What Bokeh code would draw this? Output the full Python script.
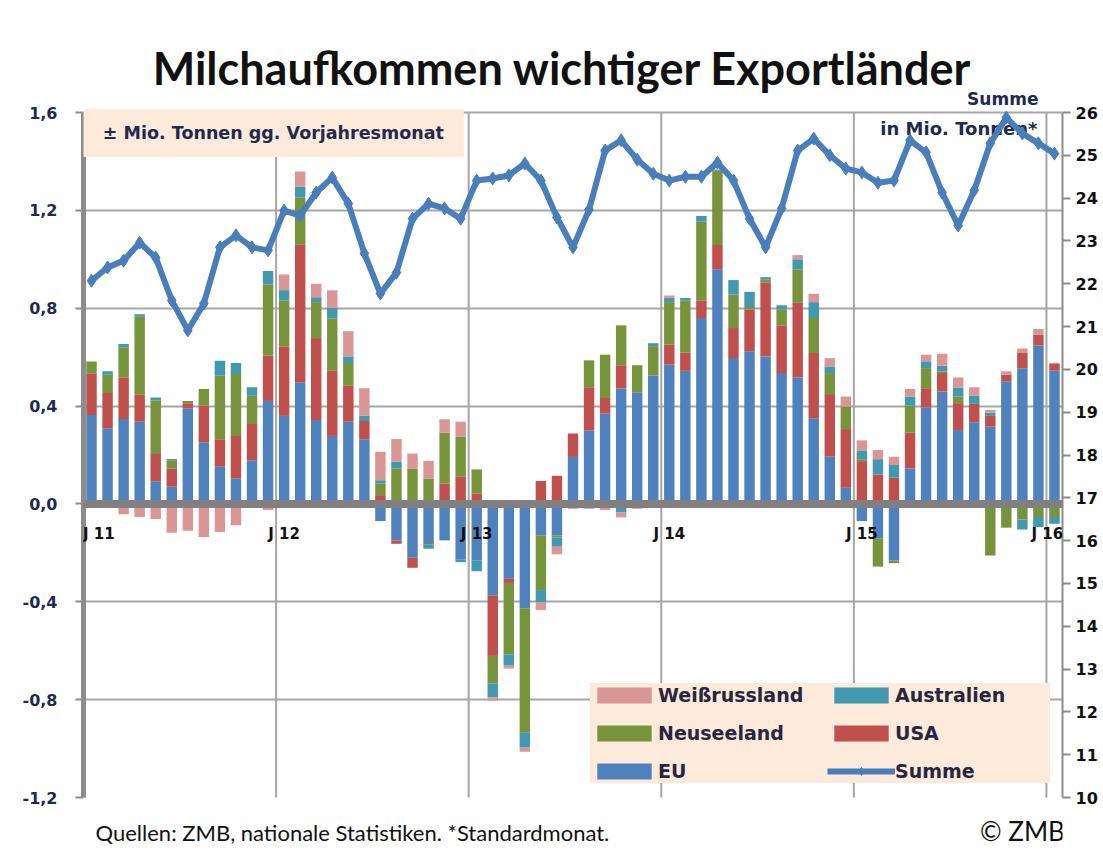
import numpy as np
from bokeh.plotting import figure
from bokeh.models import (Range1d, LinearAxis, FixedTicker, CustomJSTickFormatter,
                          ColumnDataSource, Span, Label, LabelSet, Legend, LegendItem)
from bokeh.core.properties import value
from bokeh.embed import file_html
from bokeh.resources import INLINE

# ---------------- data ----------------
month_names = ["Jan", "Feb", "Mär", "Apr", "Mai", "Jun", "Jul", "Aug", "Sep", "Okt", "Nov", "Dez"]
months = [f"{m} {y}" for y in range(2011, 2017) for m in month_names][:61]

eu = [0.364, 0.309, 0.347, 0.336, 0.093, 0.070, 0.391, 0.252, 0.152, 0.104, 0.179, 0.421,
      0.360, 0.496, 0.343, 0.278, 0.336, 0.264, -0.070, -0.149, -0.220, -0.160, -0.149, -0.228,
      -0.232, -0.374, -0.306, -0.426, -0.129, -0.129, 0.192, 0.300, 0.369, 0.472, 0.455, 0.525,
      0.569, 0.544, 0.760, 0.959, 0.596, 0.624, 0.603, 0.535, 0.517, 0.350, 0.193, 0.066,
      -0.070, -0.142, -0.231, 0.145, 0.394, 0.459, 0.302, 0.334, 0.316, 0.501, 0.555, 0.648,
      0.544]
usa = [0.170, 0.144, 0.170, 0.110, 0.111, 0.075, 0.021, 0.150, 0.112, 0.174, 0.148, 0.185,
       0.284, 0.565, 0.335, 0.266, 0.147, 0.075, 0.036, -0.014, -0.041, -0.005, 0.083, 0.111,
       0.043, -0.247, -0.017, 0.0, 0.094, 0.115, 0.096, 0.177, 0.064, 0.095, 0.0, 0.0,
       0.082, 0.075, 0.072, 0.099, 0.123, 0.171, 0.301, 0.195, 0.305, 0.267, 0.256, 0.240,
       0.175, 0.120, 0.107, 0.147, 0.079, 0.076, 0.110, 0.075, 0.044, 0.027, 0.062, 0.044,
       0.028]
neuseeland = [0.048, 0.075, 0.123, 0.321, 0.219, 0.034, 0.009, 0.068, 0.261, 0.253, 0.115, 0.291,
              0.188, 0.192, 0.147, 0.214, 0.093, 0.0, 0.047, 0.145, 0.145, 0.104, 0.208, 0.164,
              0.098, -0.113, -0.292, -0.509, -0.223, -0.008, 0.0, 0.110, 0.177, 0.163, 0.112, 0.120,
              0.174, 0.213, 0.321, 0.304, 0.137, 0.010, 0.014, 0.065, 0.137, 0.143, 0.086, 0.092,
              0.008, -0.114, -0.011, 0.110, 0.082, 0.007, 0.027, 0.0, -0.211, -0.097, -0.064, -0.053,
              -0.053]
australien = [0.0, 0.014, 0.014, 0.008, 0.012, 0.005, 0.0, 0.0, 0.060, 0.045, 0.035, 0.055,
              0.042, 0.043, 0.020, 0.043, 0.027, 0.022, 0.014, 0.027, 0.0, -0.018, 0.0, -0.010,
              -0.043, -0.056, -0.046, -0.061, -0.051, -0.038, -0.005, -0.010, -0.010, -0.035, -0.010, 0.012,
              0.017, 0.010, 0.024, 0.005, 0.059, 0.062, 0.009, 0.017, 0.041, 0.065, 0.027, 0.0,
              0.036, 0.063, 0.052, 0.037, 0.028, 0.023, 0.037, 0.033, 0.013, 0.0, -0.041, -0.041,
              -0.028]
weissrussland = [0.0, -0.010, -0.042, -0.053, -0.062, -0.118, -0.110, -0.135, -0.115, -0.087, 0.0, -0.025,
                 0.064, 0.063, 0.055, 0.072, 0.103, 0.112, 0.116, 0.093, 0.061, 0.072, 0.055, 0.061,
                 0.0, -0.014, -0.012, -0.017, -0.030, -0.031, -0.015, -0.010, -0.015, -0.020, -0.010, 0.0,
                 0.010, 0.0, 0.0, 0.0, 0.0, 0.0, 0.0, 0.0, 0.017, 0.034, 0.034, 0.041,
                 0.041, 0.037, 0.034, 0.031, 0.027, 0.049, 0.041, 0.035, 0.011, 0.014, 0.018, 0.023,
                 0.005]
summe = [22.07, 22.38, 22.54, 22.96, 22.61, 21.61, 20.91, 21.54, 22.85, 23.13, 22.85, 22.78,
         23.71, 23.59, 24.13, 24.48, 23.87, 22.71, 21.77, 22.26, 23.52, 23.87, 23.76, 23.52,
         24.41, 24.46, 24.53, 24.81, 24.41, 23.55, 22.85, 23.73, 25.11, 25.35, 24.90, 24.57,
         24.41, 24.50, 24.50, 24.83, 24.41, 23.52, 22.85, 23.76, 25.11, 25.39, 25.00, 24.69,
         24.60, 24.36, 24.41, 25.35, 25.07, 24.13, 23.36, 24.18, 25.28, 25.88, 25.51, 25.28,
         25.04]

year_labels = ["J 11", "J 12", "J 13", "J 14", "J 15", "J 16"]
year_start = [0, 12, 24, 36, 48, 60]
left_ticks = [-1.2, -0.8, -0.4, 0.0, 0.4, 0.8, 1.2, 1.6]
right_ticks = list(range(10, 27))
left_lo, left_hi = -1.2, 1.6
right_lo, right_hi = 10, 26

# ---------------- styles ----------------
C_EU, C_USA, C_NZ, C_AU, C_WR = "#4F81BD", "#C0504D", "#77933C", "#4198AF", "#D99694"
C_LINE = "#4A7EBB"
PEACH = "#FDEADA"
GRID = "#A6A6A6"
AXIS = "#8C8C8C"
NAVY = "#1F2A4F"
F_UI = "DejaVu Sans"
F_TITLE = "Lato"

# frame covers the whole canvas vertically; axes are bounded to the value span
W, H = 1100, 858
LEFT_PX, RIGHT_PX = 83, 1062
PLOT_TOP_PX, PLOT_BOT_PX = 112, 797
ppu_l = (PLOT_BOT_PX - PLOT_TOP_PX) / (left_hi - left_lo)
ppu_r = (PLOT_BOT_PX - PLOT_TOP_PX) / (right_hi - right_lo)
y_top = left_hi + PLOT_TOP_PX / ppu_l
y_bot = left_lo - (H - PLOT_BOT_PX) / ppu_l
r_top = right_hi + PLOT_TOP_PX / ppu_r
r_bot = right_lo - (H - PLOT_BOT_PX) / ppu_r

n = len(months)
x = np.arange(n) + 0.5

p = figure(width=W, height=H, x_range=Range1d(0, n), y_range=Range1d(y_bot, y_top),
           output_backend="svg", toolbar_location=None, x_axis_location=None, title_location=None,
           min_border_left=LEFT_PX, min_border_right=W - RIGHT_PX, min_border_top=0, min_border_bottom=0)
p.outline_line_color = None
p.background_fill_color = "white"
p.border_fill_color = "white"

# grids
p.xgrid.visible = False
p.ygrid.ticker = FixedTicker(ticks=[t for t in left_ticks if t not in (0.0, -1.2)])
p.ygrid.grid_line_color = GRID
p.ygrid.grid_line_width = 2
p.segment(x0=year_start, x1=year_start, y0=[left_lo] * len(year_start), y1=[left_hi] * len(year_start),
          line_color=GRID, line_width=2)

# left axis
la = p.left[0]
la.bounds = (left_lo, left_hi)
la.ticker = FixedTicker(ticks=left_ticks)
la.formatter = CustomJSTickFormatter(code="return tick.toFixed(1).replace('.', ',');")
la.axis_line_color = AXIS
la.axis_line_width = 5
la.major_tick_line_color = AXIS
la.major_tick_line_width = 2
la.major_tick_in = 0
la.major_tick_out = 8
la.minor_tick_line_color = None
la.major_label_standoff = 18
la.major_label_text_font = F_UI
la.major_label_text_font_style = "bold"
la.major_label_text_font_size = "16px"
la.major_label_text_color = NAVY

# right axis
p.extra_y_ranges = {"sum": Range1d(r_bot, r_top)}
ra = LinearAxis(y_range_name="sum", ticker=FixedTicker(ticks=right_ticks), bounds=(right_lo, right_hi))
ra.axis_line_color = AXIS
ra.axis_line_width = 2
ra.major_tick_line_color = AXIS
ra.major_tick_line_width = 2
ra.major_tick_in = 0
ra.major_tick_out = 8
ra.minor_tick_line_color = None
ra.major_label_standoff = 5
ra.major_label_text_font = F_UI
ra.major_label_text_font_style = "bold"
ra.major_label_text_font_size = "16px"
ra.major_label_text_color = "#111111"
p.add_layout(ra, "right")

# stacked bars (positive and negative stacked separately)
series = [("EU", eu, C_EU), ("USA", usa, C_USA), ("Neuseeland", neuseeland, C_NZ),
          ("Australien", australien, C_AU), ("Weißrussland", weissrussland, C_WR)]
pos = np.zeros(n)
neg = np.zeros(n)
rend = {}
for name, vals, col in series:
    v = np.array(vals, dtype=float)
    bottom = np.where(v >= 0, pos, neg)
    top = bottom + v
    pos = np.where(v >= 0, pos + v, pos)
    neg = np.where(v < 0, neg + v, neg)
    src = ColumnDataSource(dict(x=x, bottom=bottom, top=top, month=months))
    rend[name] = p.vbar(x="x", bottom="bottom", top="top", width=0.65, source=src,
                        fill_color=col, line_color=None)

# zero line
p.add_layout(Span(location=0, dimension="width", line_color="#808080", line_width=8))

# note inside the plot (behind the line)
p.text(x=[59.44], y=[1.535], text=["in Mio. Tonnen*"], text_align="right", text_baseline="middle",
       text_font=value(F_UI), text_font_style="bold", text_font_size="18px", text_color=NAVY)

# Summe line
lsrc = ColumnDataSource(dict(x=x, y=summe, month=months))
lr = p.line("x", "y", source=lsrc, y_range_name="sum", line_width=6, line_color=C_LINE)
sr = p.scatter("x", "y", source=lsrc, y_range_name="sum", marker="diamond", size=13,
               fill_color=C_LINE, line_color=C_LINE)

# year labels (kept inside the plot area at both ends)
half = 0.95
lab_x = [min(max(s + 0.5, half), n - half) for s in year_start]
ysrc = ColumnDataSource(dict(x=lab_x, y=[-0.1226] * len(year_labels), t=year_labels))
p.add_layout(LabelSet(x="x", y="y", text="t", source=ysrc, text_align="center",
                      text_baseline="middle", text_font=value(F_UI), text_font_style="bold",
                      text_font_size="15px", text_color="#111111"))

# title & texts
p.add_layout(Label(x=29.84, y=1.78, text="Milchaufkommen wichtiger Exportländer",
                   text_align="center", text_baseline="middle", text_font=F_TITLE,
                   text_font_style="bold", text_font_size="45px", text_color="#111111"))
p.add_layout(Label(x=11.83, y=1.516, text="± Mio. Tonnen gg. Vorjahresmonat",
                   text_align="center", text_baseline="middle", text_font=F_UI,
                   text_font_style="bold", text_font_size="17.5px", text_color=NAVY,
                   background_fill_color=PEACH, padding=(20, 14)))
p.add_layout(Label(x=59.5, y=1.657, text="Summe", text_align="right", text_baseline="middle",
                   text_font=F_UI, text_font_style="bold", text_font_size="17px", text_color=NAVY))
p.add_layout(Label(x=0.75, y=-1.343, text="Quellen: ZMB, nationale Statistiken. *Standardmonat.",
                   text_align="left", text_baseline="middle", text_font=F_TITLE,
                   text_font_size="22px", text_color="#111111"))
p.add_layout(Label(x=61.15, y=-1.335, text="© ZMB", text_align="right", text_baseline="middle",
                   text_font=F_TITLE, text_font_size="26px", text_color="#111111"))

# legend
legend = Legend(items=[
    LegendItem(label="Weißrussland", renderers=[rend["Weißrussland"]]),
    LegendItem(label="Australien", renderers=[rend["Australien"]]),
    LegendItem(label="Neuseeland", renderers=[rend["Neuseeland"]]),
    LegendItem(label="USA", renderers=[rend["USA"]]),
    LegendItem(label="EU", renderers=[rend["EU"]]),
    LegendItem(label="Summe", renderers=[lr, sr]),
], location=(507, 75), orientation="horizontal", ncols=2)
legend.background_fill_color = PEACH
legend.background_fill_alpha = 1.0
legend.border_line_color = None
legend.glyph_width = 68
legend.glyph_height = 20
legend.label_height = 24
legend.label_width = 155
legend.label_standoff = 0
legend.spacing = 14
legend.padding = 18
legend.margin = 0
legend.label_text_font = F_UI
legend.label_text_font_style = "bold"
legend.label_text_font_size = "19px"
legend.label_text_color = "#262640"
p.add_layout(legend)

open("out.html", "w").write(file_html(p, INLINE))
